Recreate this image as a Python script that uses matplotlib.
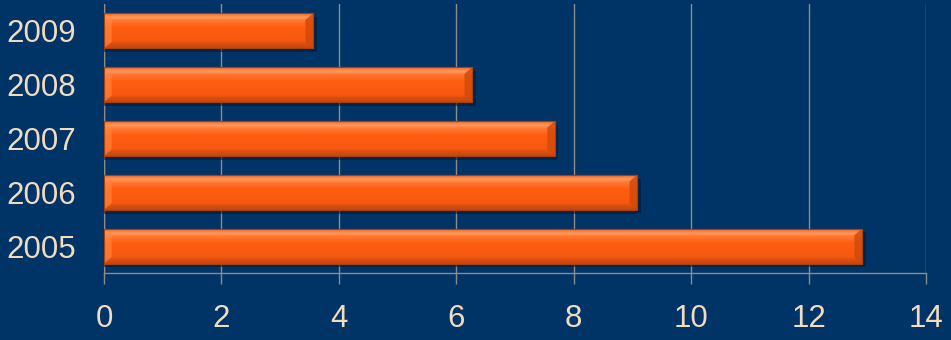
import numpy as np
import matplotlib
matplotlib.use("Agg")
import matplotlib.pyplot as plt
from matplotlib.patches import Polygon
from matplotlib.colors import LinearSegmentedColormap

years = ["2005", "2006", "2007", "2008", "2009"]
values = [12.91, 9.08, 7.68, 6.27, 3.56]
x_ticks = [0, 2, 4, 6, 8, 10, 12, 14]

BG = "#003366"
TEXT = "#F2DCC0"
GRID = "#8C8C8C"
BAR_H = 0.65

plt.rcParams["font.family"] = ["Liberation Sans", "DejaVu Sans"]

fig = plt.figure(figsize=(9.51, 3.40), dpi=100, facecolor=BG)
ax = fig.add_axes([104 / 951, 1 - 273 / 340, (926 - 104) / 951, 269 / 340])
ax.set_facecolor(BG)

pos = np.arange(len(years))
ax.set_xlim(0, 14)
ax.set_ylim(-0.5, len(years) - 0.5)

# vertical shading of each bar: light rim on top, darker base
grad = LinearSegmentedColormap.from_list(
    "barshade",
    [(0.0, "#C8460E"), (0.12, "#D94E10"), (0.2, "#F65810"),
     (0.6, "#FF5E10"), (0.78, "#FF7630"), (0.88, "#FF9A60"),
     (0.95, "#FF7A38"), (1.0, "#E8601C")])
g = np.linspace(0, 1, 256).reshape(-1, 1)

# soft drop shadow
sh_dx, sh_dy = 0.06, 0.07
ax.barh(pos - sh_dy, [v + sh_dx for v in values], height=BAR_H,
        color="#001833", alpha=0.55, zorder=2, linewidth=0)

bars = ax.barh(pos, values, height=BAR_H, color="#FF5A10",
               edgecolor="#A8400E", linewidth=0.8, zorder=3)

bx, by = 0.13, 0.12
for rect in bars:
    x0, y0 = rect.get_x(), rect.get_y()
    w, h = rect.get_width(), rect.get_height()
    im = ax.imshow(g, cmap=grad, aspect="auto", origin="lower",
                   extent=(x0, x0 + w, y0, y0 + h), zorder=3.5,
                   interpolation="bilinear")
    im.set_clip_path(rect)
    # bevel facets at both ends
    right = Polygon([(x0 + w, y0), (x0 + w, y0 + h),
                     (x0 + w - bx, y0 + h - by), (x0 + w - bx, y0 + by)],
                    closed=True, facecolor="#D24A0C", alpha=0.85,
                    edgecolor="none", zorder=4)
    left = Polygon([(x0, y0), (x0, y0 + h),
                    (x0 + bx, y0 + h - by), (x0 + bx, y0 + by)],
                   closed=True, facecolor="#FF8A48", alpha=0.6,
                   edgecolor="none", zorder=4)
    ax.add_patch(right)
    ax.add_patch(left)
    outline = plt.Rectangle((x0, y0), w, h, fill=False,
                            edgecolor="#A8400E", linewidth=0.8, zorder=5)
    ax.add_patch(outline)

ax.set_xticks(x_ticks)
ax.set_xticklabels([str(t) for t in x_ticks])
ax.set_yticks(pos)
ax.set_yticklabels(years)
ax.xaxis.grid(True, color=GRID, linewidth=1.0)
ax.set_axisbelow(True)

for side in ["top", "right", "left"]:
    ax.spines[side].set_visible(False)
ax.spines["bottom"].set_color(GRID)
ax.spines["bottom"].set_linewidth(1.0)
ax.spines["bottom"].set_zorder(1)

ax.tick_params(axis="x", colors=GRID, length=8, width=1.0, pad=14,
               labelsize=22.5, labelcolor=TEXT)
ax.tick_params(axis="y", length=0, pad=20, labelsize=22.5, labelcolor=TEXT)

# vertical line at zero through the plot area
ax.axvline(0, color=GRID, linewidth=1.0, zorder=1)

fig.savefig("out.png", dpi=100, facecolor=BG)
